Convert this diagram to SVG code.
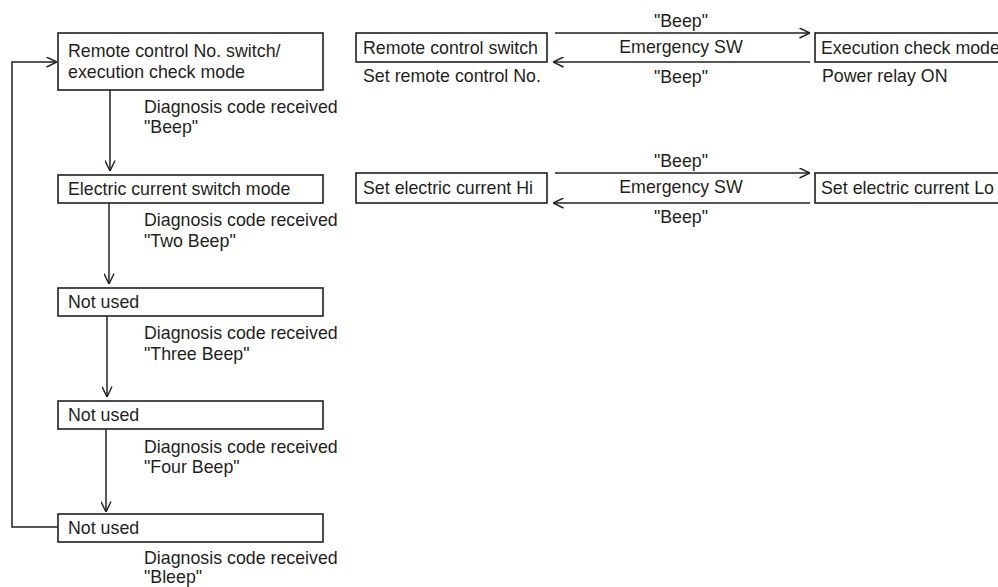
<svg xmlns="http://www.w3.org/2000/svg" width="998" height="587" viewBox="0 0 998 587">
<style>
  .box { fill: #fff; stroke: #231f20; stroke-width: 1.6; }
  .t { font-family: "Liberation Sans", Arial, sans-serif; font-size: 17.8px; fill: #231f20; }
  .c { text-anchor: middle; }
  .ln { fill: none; stroke: #231f20; stroke-width: 1.5; marker-end: url(#ah); }
</style>
<defs>
  <marker id="ah" viewBox="0 0 11 11" refX="11" refY="5.5" markerWidth="11" markerHeight="11" markerUnits="userSpaceOnUse" orient="auto">
    <path d="M0.5,0.5 L11,5.5 L0.5,10.5" fill="none" stroke="#231f20" stroke-width="1.4"/>
  </marker>
</defs>
<rect width="998" height="587" fill="#fff"/>

<g id="connectors">
  <path class="ln" d="M110,90 V171"/>
  <path class="ln" d="M109,203 V284"/>
  <path class="ln" d="M107,316 V397"/>
  <path class="ln" d="M106,429 V512"/>
  <path class="ln" d="M58,527 H12 V62 H57"/>
  <path class="ln" d="M555,33 H810"/>
  <path class="ln" d="M810,62 H553"/>
  <path class="ln" d="M555,173 H810"/>
  <path class="ln" d="M810,203 H553"/>
  <text class="t c" x="681" y="27">"Beep"</text>
  <text class="t c" x="681" y="53">Emergency SW</text>
  <text class="t c" x="681" y="83">"Beep"</text>
  <text class="t c" x="681" y="167">"Beep"</text>
  <text class="t c" x="681" y="193">Emergency SW</text>
  <text class="t c" x="681" y="223">"Beep"</text>
  <text class="t" x="144" y="113">Diagnosis code received</text>
  <text class="t" x="144" y="133">"Beep"</text>
  <text class="t" x="144" y="226">Diagnosis code received</text>
  <text class="t" x="144" y="247">"Two Beep"</text>
  <text class="t" x="144" y="339">Diagnosis code received</text>
  <text class="t" x="144" y="360">"Three Beep"</text>
  <text class="t" x="144" y="453">Diagnosis code received</text>
  <text class="t" x="144" y="473">"Four Beep"</text>
  <text class="t" x="144" y="564">Diagnosis code received</text>
  <text class="t" x="144" y="583">"Bleep"</text>
</g>

<g id="mode1">
  <rect class="box" x="58" y="33" width="265" height="57"/>
  <text class="t" x="68" y="57">Remote control No. switch/</text>
  <text class="t" x="68" y="78">execution check mode</text>
</g>
<g id="mode2">
  <rect class="box" x="58" y="175" width="265" height="28"/>
  <text class="t" x="68" y="195">Electric current switch mode</text>
</g>
<g id="mode3">
  <rect class="box" x="58" y="288" width="265" height="28"/>
  <text class="t" x="68" y="308">Not used</text>
</g>
<g id="mode4">
  <rect class="box" x="58" y="401" width="265" height="28"/>
  <text class="t" x="68" y="421">Not used</text>
</g>
<g id="mode5">
  <rect class="box" x="58" y="514" width="265" height="28"/>
  <text class="t" x="68" y="534">Not used</text>
</g>

<g id="remote-switch">
  <rect class="box" x="356" y="33" width="191" height="29"/>
  <text class="t" x="363" y="54">Remote control switch</text>
  <text class="t" x="363" y="82">Set remote control No.</text>
</g>
<g id="exec-check">
  <rect class="box" x="815" y="33" width="200" height="29"/>
  <text class="t" x="821" y="54">Execution check mode</text>
  <text class="t" x="822" y="82">Power relay ON</text>
</g>
<g id="current-hi">
  <rect class="box" x="356" y="173" width="191" height="30"/>
  <text class="t" x="363" y="194">Set electric current Hi</text>
</g>
<g id="current-lo">
  <rect class="box" x="815" y="173" width="200" height="30"/>
  <text class="t" x="821" y="194">Set electric current Lo</text>
</g>
</svg>
